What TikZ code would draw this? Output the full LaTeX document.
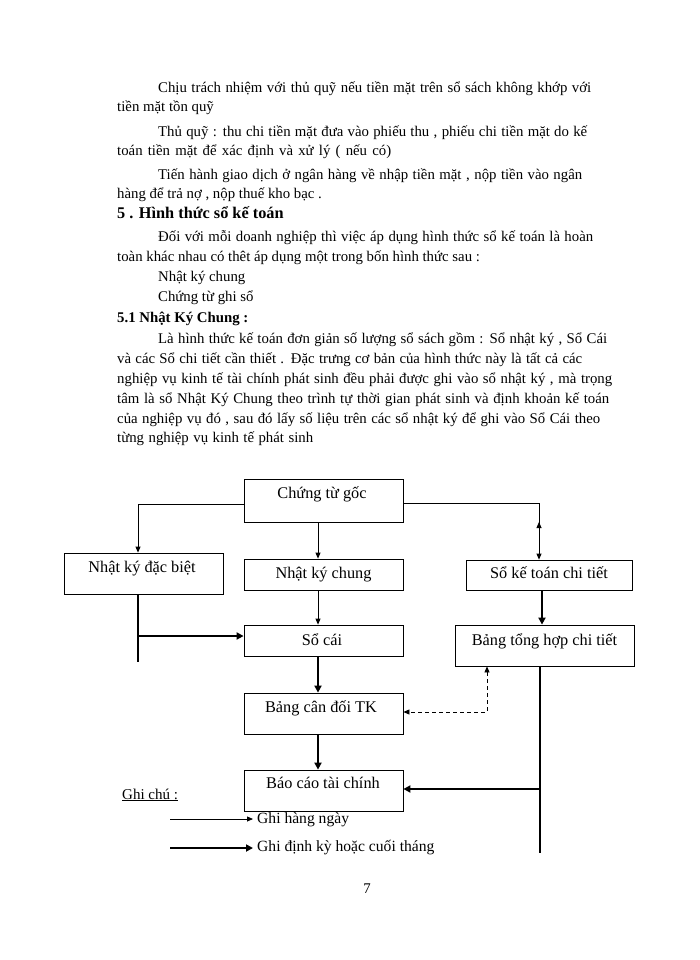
\documentclass[tikz,border=0pt]{standalone}
\usepackage{fontspec}
\setmainfont{Liberation Serif}
\usetikzlibrary{arrows.meta}
\newcommand{\bodyfont}{\fontsize{14.8pt}{17pt}\selectfont}
\newcommand{\boxfont}{\fontsize{16.3pt}{19pt}\selectfont}
\newcommand{\legfont}{\fontsize{15.6pt}{18pt}\selectfont}
\tikzset{
  txt/.style={anchor=base west, inner sep=0pt, font=\bodyfont},
  box/.style={draw, line width=0.8pt, inner sep=0pt},
  lbl/.style={anchor=base, inner sep=0pt, font=\boxfont},
  thinarrow/.style={line width=0.8pt, -{Triangle[length=6pt,width=5pt]}},
  thickline/.style={line width=2.6pt},
  thickarrow/.style={line width=2.6pt, -{Triangle[length=7pt,width=7pt]}},
  dasharrow/.style={line width=0.8pt, dash pattern=on 4pt off 3pt,
    {Triangle[length=6pt,width=5pt]}-{Triangle[length=6pt,width=5pt]}}
}
\begin{document}
\begin{tikzpicture}[x=1pt,y=-1pt]
\useasboundingbox[fill=white] (0,0) rectangle (700,960);
% ---- body text ----
\node[txt] (t1) at (158,93) {\makebox[433pt][s]{Chịu trách nhiệm với thủ quỹ nếu tiền mặt trên sổ sách không khớp với}};
\node[txt] (t2) at (117,112) {tiền mặt tồn quỹ};
\node[txt] (t3) at (158,137) {\makebox[429pt][s]{Thủ quỹ : thu chi tiền mặt đưa vào phiếu thu , phiếu chi tiền mặt do kế}};
\node[txt] (t4) at (117,156) {\makebox[274pt][s]{toán tiền mặt để xác định và xử lý ( nếu có)}};
\node[txt] (t5) at (158,179) {\makebox[424pt][s]{Tiến hành giao dịch ở ngân hàng về nhập tiền mặt , nộp tiền vào ngân}};
\node[txt] (t6) at (117,198) {hàng để trả nợ , nộp thuế kho bạc .};
\node[txt, font=\fontsize{16.3pt}{19pt}\selectfont\bfseries] (t7) at (117,218) {5 . Hình thức sổ kế toán};
\node[txt] (t8) at (158,241) {\makebox[435pt][s]{Đối với mỗi doanh nghiệp thì việc áp dụng hình thức sổ kế toán là hoàn}};
\node[txt] (t9) at (117,261) {toàn khác nhau có thêt áp dụng một trong bốn hình thức sau :};
\node[txt] (t10) at (158,281) {Nhật ký chung};
\node[txt] (t11) at (158,301) {Chứng từ ghi sổ};
\node[txt, font=\bodyfont\bfseries] (t12) at (117,322) {5.1 Nhật Ký Chung :};
\node[txt] (t13) at (158,343) {\makebox[449pt][s]{Là hình thức kế toán đơn giản số lượng sổ sách gồm : Sổ nhật ký , Sổ Cái}};
\node[txt] (t14) at (117,363) {\makebox[465pt][s]{và các Sổ chi tiết cần thiết . Đặc trưng cơ bản của hình thức này là tất cả các}};
\node[txt] (t15) at (117,383) {\makebox[495pt][s]{nghiệp vụ kinh tế tài chính phát sinh đều phải được ghi vào sổ nhật ký , mà trọng}};
\node[txt] (t16) at (117,403) {\makebox[492pt][s]{tâm là sổ Nhật Ký Chung theo trình tự thời gian phát sinh và định khoản kế toán}};
\node[txt] (t17) at (117,423) {\makebox[483pt][s]{của nghiệp vụ đó , sau đó lấy số liệu trên các sổ nhật ký để ghi vào Sổ Cái theo}};
\node[txt] (t18) at (117,442) {\makebox[196pt][s]{từng nghiệp vụ kinh tế phát sinh}};
% ---- boxes ----
\node[box, minimum width=159pt, minimum height=43pt] (cg) at (323.5,500.5) {};
\node[box, minimum width=159pt, minimum height=41pt] (nkdb) at (143.5,573.5) {};
\node[box, minimum width=159pt, minimum height=31pt] (nkc) at (323.5,574.5) {};
\node[box, minimum width=166pt, minimum height=30pt] (sktct) at (549,575) {};
\node[box, minimum width=159pt, minimum height=31pt] (socai) at (323.5,640.5) {};
\node[box, minimum width=179pt, minimum height=41pt] (bthct) at (544.5,645.5) {};
\node[box, minimum width=159pt, minimum height=41pt] (bcd) at (323.5,713.5) {};
\node[box, minimum width=159pt, minimum height=41pt] (bctc) at (323.5,790.5) {};
% ---- box labels ----
\node[lbl] (cgl) at (322,498) {Chứng từ gốc};
\node[lbl] (nkdbl) at (142,572) {Nhật ký đặc biệt};
\node[lbl] (nkcl) at (323.5,578) {Nhật ký chung};
\node[lbl] (sktctl) at (549,578) {Sổ kế toán chi tiết};
\node[lbl] (socail) at (322,645) {Sổ cái};
\node[lbl] (bthctl) at (544.5,645) {Bảng tổng hợp chi tiết};
\node[lbl] (bcdl) at (321,712) {Bảng cân đối TK};
\node[lbl] (bctcl) at (323,788) {Báo cáo tài chính};
% ---- helper coordinates ----
\coordinate (upA) at (539,533);
\coordinate (upB) at (539,522);
\coordinate (nkdbEnd) at (138,662);
\coordinate (j1) at (138,636);
\coordinate (rEnd) at (540,853);
\coordinate (j2) at (540,789);
\coordinate (dC) at (487,712);
% ---- connectors ----
\draw[thinarrow] ([yshift=-3.5pt]cg.west) -| ([xshift=-5.5pt]nkdb.north);
\draw[thinarrow] ([xshift=-5.5pt]cg.south) -- ([xshift=-5.5pt]cg.south |- nkc.north);
\draw[thinarrow] ([yshift=-2.5pt]cg.east) -| ([xshift=-10pt]sktct.north);
\draw[thinarrow] (upA) -- (upB);
\draw[thinarrow] ([xshift=-5.5pt]nkc.south) -- ([xshift=-5.5pt]nkc.south |- socai.north);
\draw[thickline] ([xshift=-5.5pt]nkdb.south) -- (nkdbEnd);
\draw[thickarrow] (j1) -- (socai.west |- j1);
\draw[thickarrow] ([xshift=-5.5pt]socai.south) -- ([xshift=-5.5pt]socai.south |- bcd.north);
\draw[thickarrow] ([xshift=-5.5pt]bcd.south) -- ([xshift=-5.5pt]bcd.south |- bctc.north);
\draw[thickarrow] ([xshift=-7pt]sktct.south) -- ([xshift=-7pt]sktct.south |- bthct.north);
\draw[thickline] (bthct.south -| rEnd) -- (rEnd);
\draw[thickarrow] (j2) -- (bctc.east |- j2);
\draw[dasharrow] (bthct.south -| dC) -- (dC) -- (bcd.east |- dC);
% ---- legend ----
\node[txt, font=\fontsize{15pt}{18pt}\selectfont] (gc) at (122,799) {\underline{Ghi chú :}};
\coordinate (l1a) at (170,819);
\coordinate (l1b) at (253,819);
\coordinate (l2a) at (170,848);
\coordinate (l2b) at (253,848);
\draw[thinarrow] (l1a) -- (l1b);
\draw[thickarrow] (l2a) -- (l2b);
\node[txt, font=\legfont] (lg1) at (257,823) {Ghi hàng ngày};
\node[txt, font=\legfont] (lg2) at (257,851) {Ghi định kỳ hoặc cuối tháng};
\node[anchor=base, inner sep=0pt, font=\bodyfont] (pg) at (367,893) {7};
\end{tikzpicture}
\end{document}
